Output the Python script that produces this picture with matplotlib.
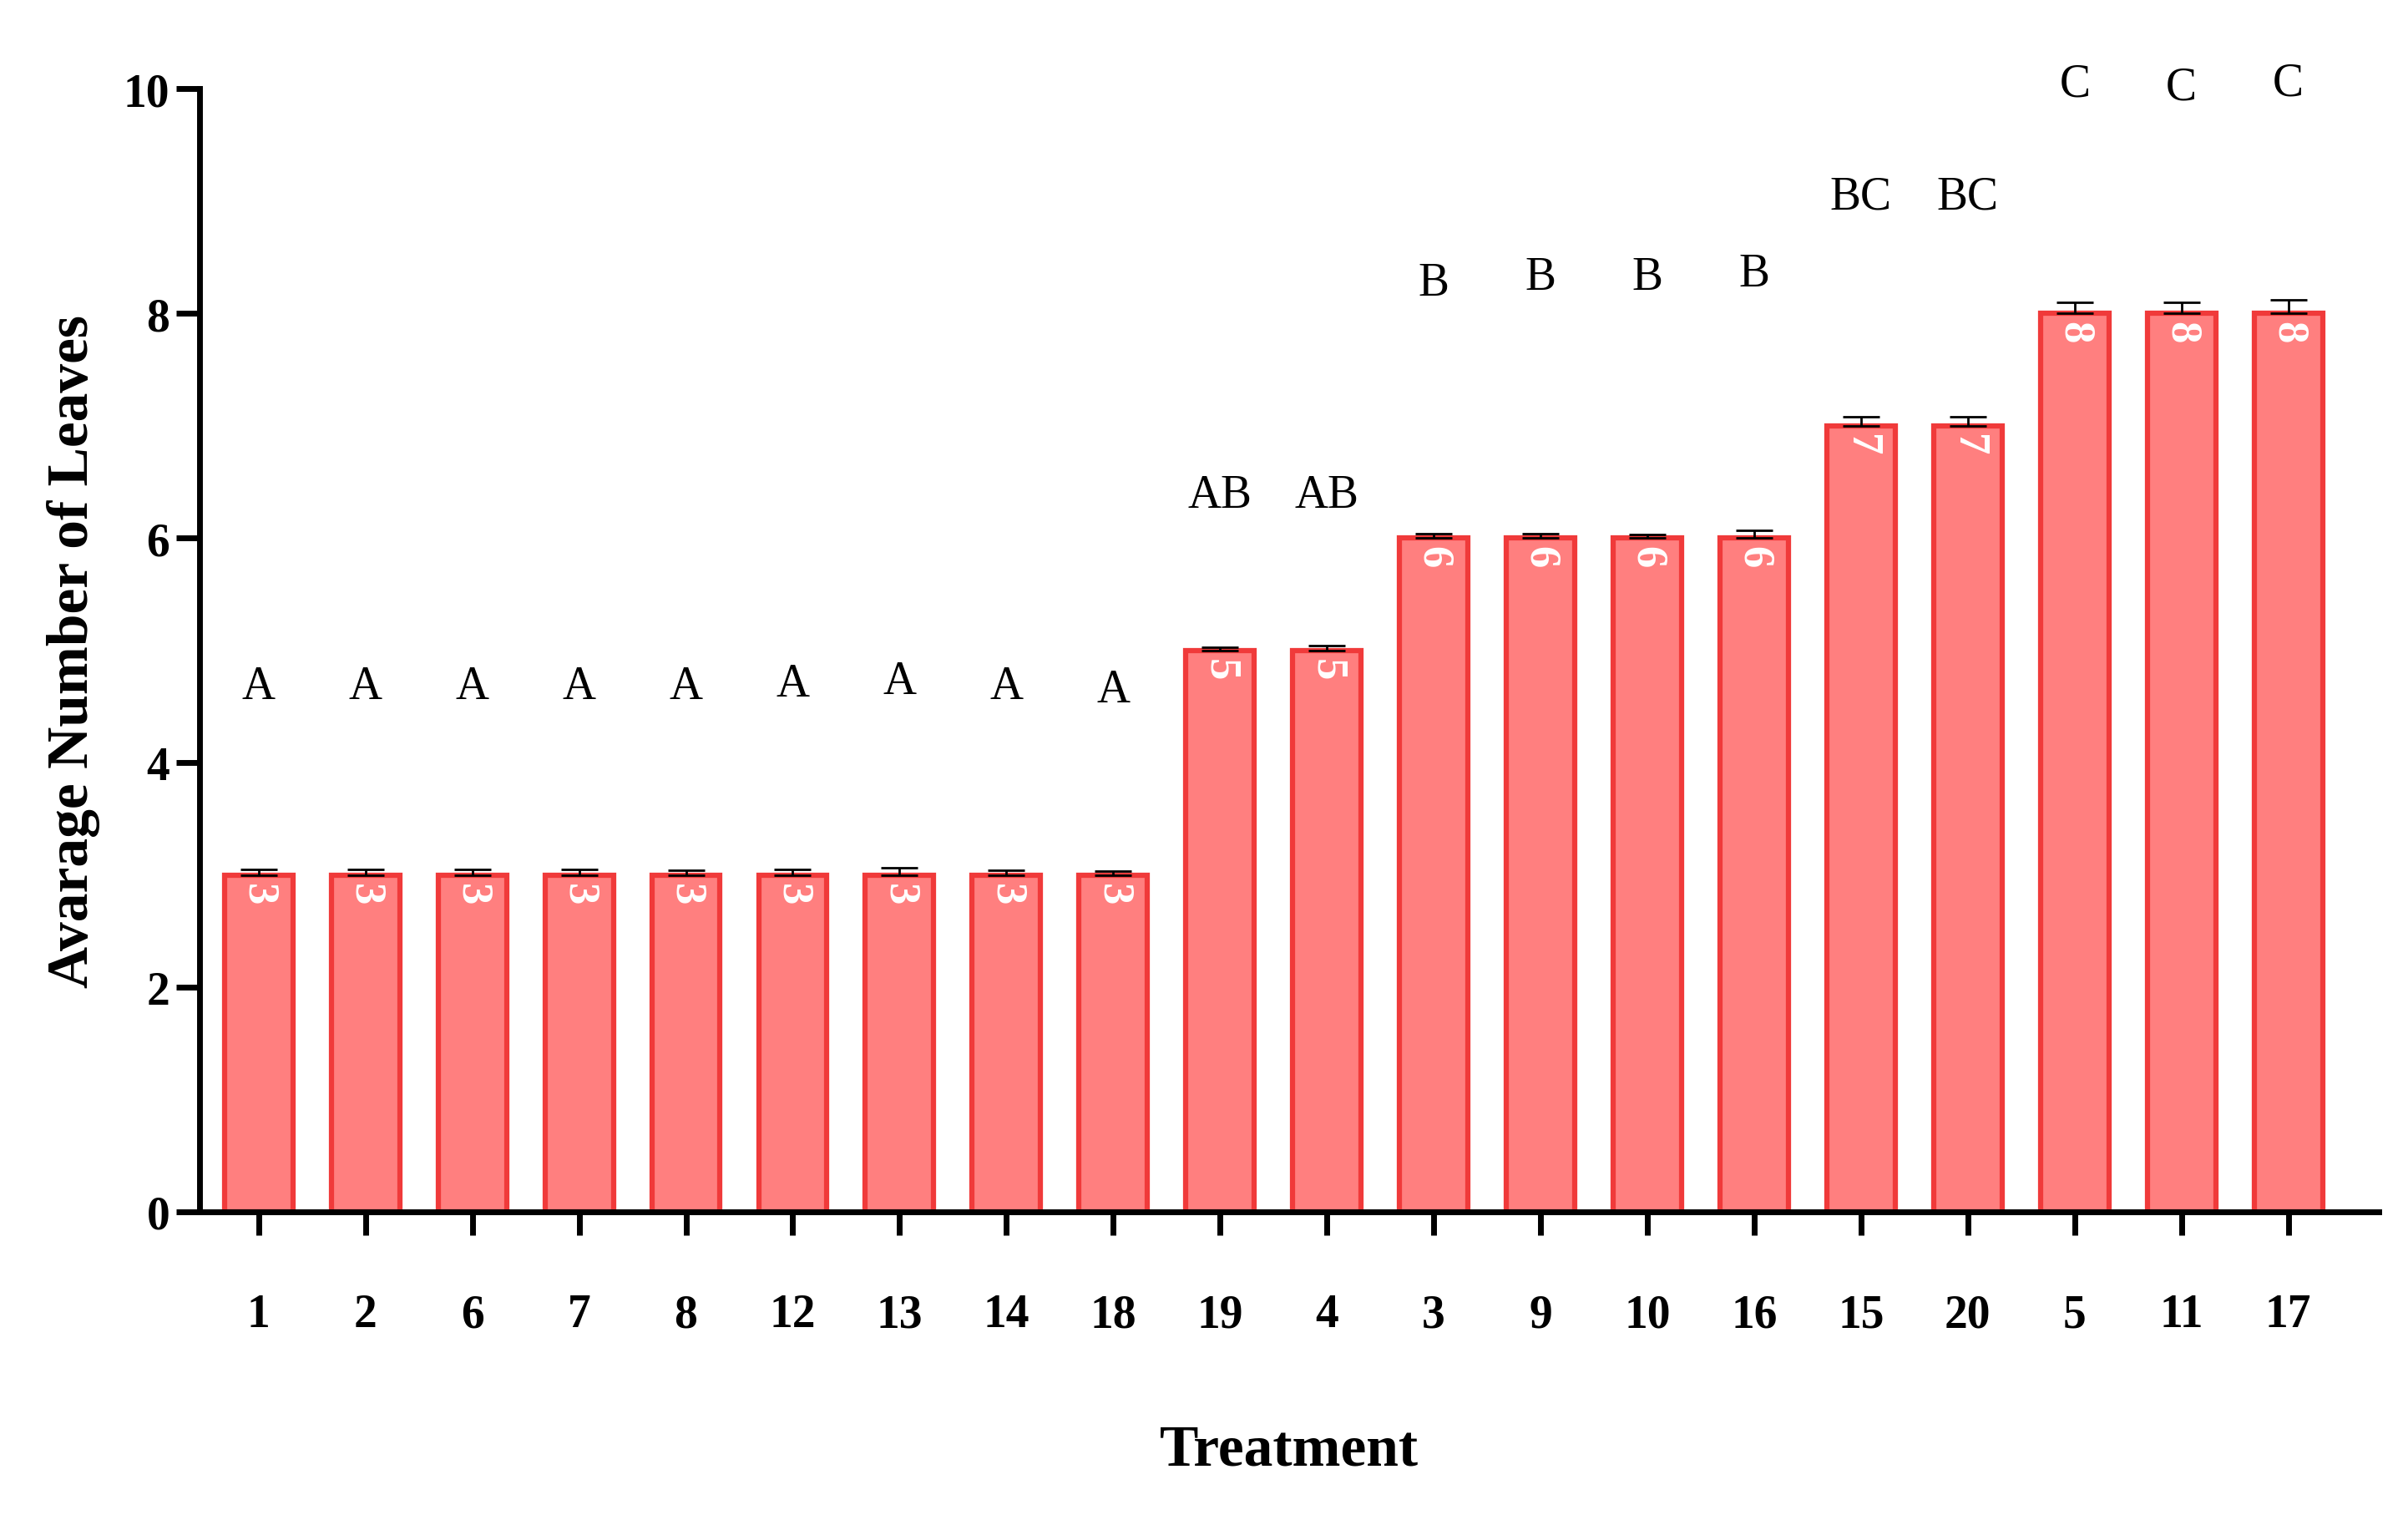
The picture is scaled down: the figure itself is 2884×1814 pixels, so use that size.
import matplotlib.pyplot as plt

# ==========================
# DATA
# ==========================

treatments = ["1", "2", "6", "7", "8", "12", "13", "14", "18", "19",
              "4", "3", "9", "10", "16", "15", "20", "5", "11", "17"]
means = [3, 3, 3, 3, 3, 3, 3, 3, 3, 5, 5, 6, 6, 6, 6, 7, 7, 8, 8, 8]
errors = [0.05, 0.05, 0.05, 0.05, 0.04, 0.05, 0.06, 0.04, 0.03, 0.03,
          0.04, 0.04, 0.04, 0.03, 0.07, 0.08, 0.08, 0.1, 0.1, 0.12]
letters = ["A"] * 9 + ["AB", "AB", "B", "B", "B", "B", "BC", "BC", "C", "C", "C"]
letter_y = [4.68, 4.68, 4.68, 4.68, 4.68, 4.70, 4.72, 4.68, 4.65, 6.38,
            6.38, 8.27, 8.32, 8.32, 8.35, 9.04, 9.04, 10.04, 10.01, 10.05]

# ==========================
# PLOT
# ==========================

plt.rcParams["font.family"] = "Liberation Serif"

fig = plt.figure(figsize=(28.84, 18.15), dpi=100)
ax = fig.add_axes([0.083, 0.2, 0.905, 0.741])

x = range(len(treatments))

ax.bar(x, means, width=0.64, color="#FF7F7F", edgecolor="#F03A3A",
       linewidth=4.5, zorder=2)
ax.errorbar(x, means, yerr=[[0] * len(errors), errors], fmt="none",
            ecolor="black", elinewidth=2, capsize=16, capthick=2, zorder=3)

for i in x:
    ax.text(i, means[i] - 0.07, str(means[i]), rotation=270, color="white",
            ha="center", va="top", fontsize=38, fontweight="bold", zorder=4)
    ax.text(i, letter_y[i], letters[i], ha="center", va="center",
            fontsize=40, clip_on=False)

ax.set_xlim(-0.55, 19.85)
ax.set_ylim(0, 10)
ax.set_yticks([0, 2, 4, 6, 8, 10])
ax.set_xticks(list(x))
ax.set_xticklabels(treatments)

for s in ["top", "right"]:
    ax.spines[s].set_visible(False)
ax.spines["left"].set_linewidth(5)
ax.spines["bottom"].set_linewidth(5)

ax.tick_params(axis="y", width=5, length=20, labelsize=40, pad=6)
ax.tick_params(axis="x", width=5, length=20, labelsize=40, pad=50)
for lab in ax.get_xticklabels() + ax.get_yticklabels():
    lab.set_fontweight("bold")

ax.set_xlabel("Treatment", fontsize=50, fontweight="bold", labelpad=75)
ax.set_ylabel("Avarage Number of Leaves", fontsize=50, fontweight="bold",
              labelpad=20)

plt.savefig("out.png", dpi=100)
